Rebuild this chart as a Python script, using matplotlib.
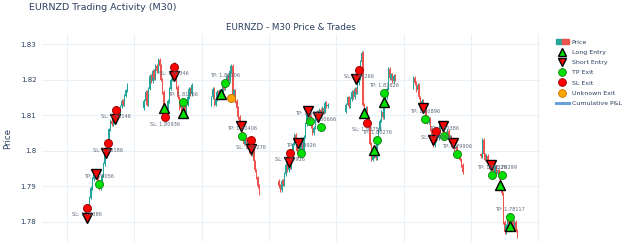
import matplotlib.pyplot as plt
from matplotlib.patches import Rectangle
from matplotlib.lines import Line2D
from matplotlib.legend_handler import HandlerTuple

# price path per session: candle i opens at path[i] and closes at path[i+1]
day_starts = [30.5, 51.5, 75.5, 99.5, 123.5, 147.5, 171.5]
day1_path = [1.7820, 1.7835, 1.7815, 1.7842, 1.7868, 1.7895, 1.7920, 1.7945, 1.7930, 1.7938,
             1.7910, 1.7895, 1.7908, 1.7930, 1.7962, 1.7990, 1.8005, 1.8030, 1.8060, 1.8085,
             1.8075, 1.8090, 1.8082, 1.8100, 1.8112, 1.8105, 1.8125, 1.8140, 1.8132, 1.8155,
             1.8170, 1.8185]
day2_path = [1.8120, 1.8140, 1.8165, 1.8130, 1.8175, 1.8210, 1.8195, 1.8225, 1.8205, 1.8240,
             1.8225, 1.8255, 1.8240, 1.8200, 1.8165, 1.8130, 1.8105, 1.8095, 1.8140, 1.8175,
             1.8200, 1.8220, 1.8245, 1.8215, 1.8180, 1.8150, 1.8120, 1.8135, 1.8110, 1.8125,
             1.8108, 1.8130, 1.8150, 1.8175, 1.8160, 1.8185]
day3_path = [1.8130, 1.8150, 1.8175, 1.8130, 1.8145, 1.8165, 1.8150, 1.8170, 1.8160, 1.8185,
             1.8175, 1.8195, 1.8210, 1.8195, 1.8225, 1.8240, 1.8150, 1.8170, 1.8140, 1.8120,
             1.8095, 1.8075, 1.8060, 1.8045, 1.8020, 1.8035, 1.8010, 1.8025, 1.8000, 1.7990,
             1.8010, 1.7970, 1.7945, 1.7925, 1.7900, 1.7880]
day4_path = [1.7915, 1.7900, 1.7890, 1.7915, 1.7905, 1.7935, 1.7960, 1.7945, 1.7970, 1.7955,
             1.7985, 1.8020, 1.8045, 1.8025, 1.8000, 1.7985, 1.8010, 1.8035, 1.7995, 1.8040,
             1.8075, 1.8100, 1.8115, 1.8095, 1.8070, 1.8050, 1.8065, 1.8090, 1.8110, 1.8095,
             1.8115, 1.8105, 1.8120, 1.8110, 1.8135, 1.8125, 1.8130]
day5_path = [1.8110, 1.8130, 1.8150, 1.8125, 1.8145, 1.8165, 1.8150, 1.8175, 1.8165, 1.8190,
             1.8205, 1.8250, 1.8275, 1.8130, 1.8110, 1.8120, 1.8090, 1.8070, 1.8020, 1.7975,
             1.7985, 1.7995, 1.7980, 1.8020, 1.8060, 1.8085, 1.8110, 1.8095, 1.8130, 1.8150,
             1.8175, 1.8230, 1.8205, 1.8215, 1.8195, 1.8210, 1.8200]
day6_path = [1.8180, 1.8205, 1.8190, 1.8170, 1.8185, 1.8150, 1.8130, 1.8140, 1.8115, 1.8120,
             1.8095, 1.8080, 1.8090, 1.8060, 1.8035, 1.8015, 1.8030, 1.8050, 1.8035, 1.8055,
             1.8075, 1.8060, 1.8070, 1.8050, 1.8040, 1.8055, 1.8030, 1.8040, 1.8015, 1.8025,
             1.8005, 1.8010, 1.7990, 1.7995, 1.7975, 1.7960, 1.7940]
day7_path = [1.7990, 1.7985, 1.8030, 1.7990, 1.7975, 1.7985, 1.7965, 1.7955, 1.7965, 1.7950,
             1.7940, 1.7955, 1.7935, 1.7945, 1.7925, 1.7905, 1.7880, 1.7800, 1.7770, 1.7790,
             1.7810, 1.7795, 1.7815, 1.7800, 1.7785, 1.7800, 1.7775, 1.7760]
day_paths = [day1_path, day2_path, day3_path, day4_path, day5_path, day6_path, day7_path]

# trades (time in hours, price)
long_t = [58.5, 65.5, 79.0, 130.0, 133.5, 137.0, 178.5, 182.0]
long_p = [1.8119, 1.8107, 1.8159, 1.8105, 1.8001, 1.8136, 1.7903, 1.7789]
short_t = [31.0, 34.5, 38.0, 41.0, 62.0, 86.0, 89.5, 103.0, 106.5, 110.0, 113.5, 127.0,
           151.0, 154.5, 158.0, 161.5, 175.0]
short_p = [1.7812, 1.7935, 1.7993, 1.8090, 1.8211, 1.8070, 1.8004, 1.7967, 1.8021, 1.8113,
           1.8096, 1.8202, 1.8119, 1.8030, 1.8070, 1.8021, 1.7961]
tp_t = [35.5, 65.5, 80.5, 86.5, 107.5, 110.5, 114.5, 134.5, 137.0, 151.5, 158.5, 163.0,
        175.5, 179.0, 182.0]
tp_p = [1.7906, 1.8136, 1.8191, 1.8041, 1.7993, 1.8084, 1.8067, 1.8030, 1.8162, 1.8090,
        1.8041, 1.7990, 1.7932, 1.7932, 1.7814]
tp_labels = ['TP: 1.79056', 'TP: 1.81366', 'TP: 1.81906', 'TP: 1.80406', 'TP: 1.79926',
             'TP: 1.80846', 'TP: 1.80666', 'TP: 1.80276', 'TP: 1.81626', 'TP: 1.80896',
             'TP: 1.80386', 'TP: 1.79906', 'TP: 1.79326', 'TP: 1.79299', 'TP: 1.78117']
sl_t = [31.0, 38.5, 41.5, 59.0, 62.0, 89.5, 103.5, 128.0, 131.0, 155.5]
sl_p = [1.7840, 1.8021, 1.8116, 1.8094, 1.8237, 1.8030, 1.7995, 1.8228, 1.8079, 1.8056]
sl_labels = ['SL: 1.78386', 'SL: 1.80186', 'SL: 1.81146', 'SL: 1.80936', 'SL: 1.82346',
             'SL: 1.80276', 'SL: 1.79926', 'SL: 1.82266', 'SL: 1.80756', 'SL: 1.80566']
unk_t = [82.5]
unk_p = [1.8148]

UP = '#26a69a'
DOWN = '#ef5350'
TXT = '#2a3f5f'

fig = plt.figure(figsize=(6.25, 2.47), dpi=100)
ax = fig.add_axes([42 / 625, 5 / 247, 498 / 625, 208 / 247])

for start, path in zip(day_starts, day_paths):
    for i in range(len(path) - 1):
        t = start + 0.5 * i
        o, c = path[i], path[i + 1]
        col = UP if c >= o else DOWN
        ax.vlines(t, min(o, c) - 0.0005, max(o, c) + 0.0005, color=col, lw=0.75, zorder=2)
        ax.bar(t, c - o if c != o else 0.00005, bottom=o, width=0.45, color=col, lw=0, zorder=2)

ax.plot(long_t, long_p, '^', ms=7, mfc='#00e000', mec='black', mew=1.0, ls='none', zorder=4)
ax.plot(short_t, short_p, 'v', ms=7, mfc='#ff0000', mec='black', mew=1.0, ls='none', zorder=4)
ax.plot(tp_t, tp_p, 'o', ms=5.8, mfc='#00e000', mec='#1a7a1a', mew=0.6, ls='none', zorder=5)
ax.plot(sl_t, sl_p, 'o', ms=5.8, mfc='#ff0000', mec='#8b0000', mew=0.6, ls='none', zorder=5)
ax.plot(unk_t, unk_p, 'o', ms=5.8, mfc='#ffa500', mec='#c07000', mew=0.6, ls='none', zorder=5)

for t, p, s in zip(tp_t, tp_p, tp_labels):
    ax.annotate(s, (t, p), xytext=(0, 5.5), textcoords='offset points', ha='center',
                va='center', fontsize=3.6, color='#5b6678', zorder=6)
for t, p, s in zip(sl_t, sl_p, sl_labels):
    ax.annotate(s, (t, p), xytext=(0, -5.0), textcoords='offset points', ha='center',
                va='center', fontsize=3.6, color='#5b6678', zorder=6)

ax.set_xlim(15.1, 192.6)
ax.set_ylim(1.77431, 1.83287)
ax.set_xticks([24, 48, 72, 96, 120, 144, 168, 192])
ax.set_xticklabels([])
ax.set_yticks([1.78, 1.79, 1.80, 1.81, 1.82, 1.83])
ax.set_yticklabels(['1.78', '1.79', '1.8', '1.81', '1.82', '1.83'])
ax.tick_params(length=0, labelsize=5, colors=TXT, pad=4)
ax.grid(True, color='#ebf0f8', lw=0.8)
ax.set_axisbelow(True)
for sp in ax.spines.values():
    sp.set_visible(False)
ax.set_ylabel('Price', fontsize=6.2, color=TXT, labelpad=6)
ax.set_title('EURNZD - M30 Price & Trades', fontsize=6.3, color=TXT, pad=3)

fig.text(29 / 625, 1 - 7 / 247, 'EURNZD Trading Activity (M30)', fontsize=6.8, color=TXT,
         va='center', ha='left')

h_price = (Rectangle((0, 0), 1, 1, fc=UP, ec=UP), Rectangle((0, 0), 1, 1, fc=DOWN, ec=DOWN))
handles = [
    h_price,
    Line2D([], [], marker='^', ms=6, mfc='#00e000', mec='black', mew=1.0, ls='none'),
    Line2D([], [], marker='v', ms=6, mfc='#ff0000', mec='black', mew=1.0, ls='none'),
    Line2D([], [], marker='o', ms=5.6, mfc='#00e000', mec='#1a7a1a', mew=0.6, ls='none'),
    Line2D([], [], marker='o', ms=5.6, mfc='#ff0000', mec='#8b0000', mew=0.6, ls='none'),
    Line2D([], [], marker='o', ms=5.6, mfc='#ffa500', mec='#c07000', mew=0.6, ls='none'),
    Line2D([], [], color='#6a9fd8', lw=2.2),
]
labels = ['Price', 'Long Entry', 'Short Entry', 'TP Exit', 'SL Exit', 'Unknown Exit',
          'Cumulative P&L']
leg = fig.legend(handles, labels, loc='upper left', bbox_to_anchor=(553 / 625, 1 - 36 / 247),
                 frameon=False, fontsize=4.5, labelcolor=TXT, handlelength=2.0, handleheight=0.8,
                 handletextpad=0.5, labelspacing=0.75, borderpad=0,
                 handler_map={tuple: HandlerTuple(ndivide=None, pad=0)})

fig.savefig('out.png', dpi=100, facecolor='white')
